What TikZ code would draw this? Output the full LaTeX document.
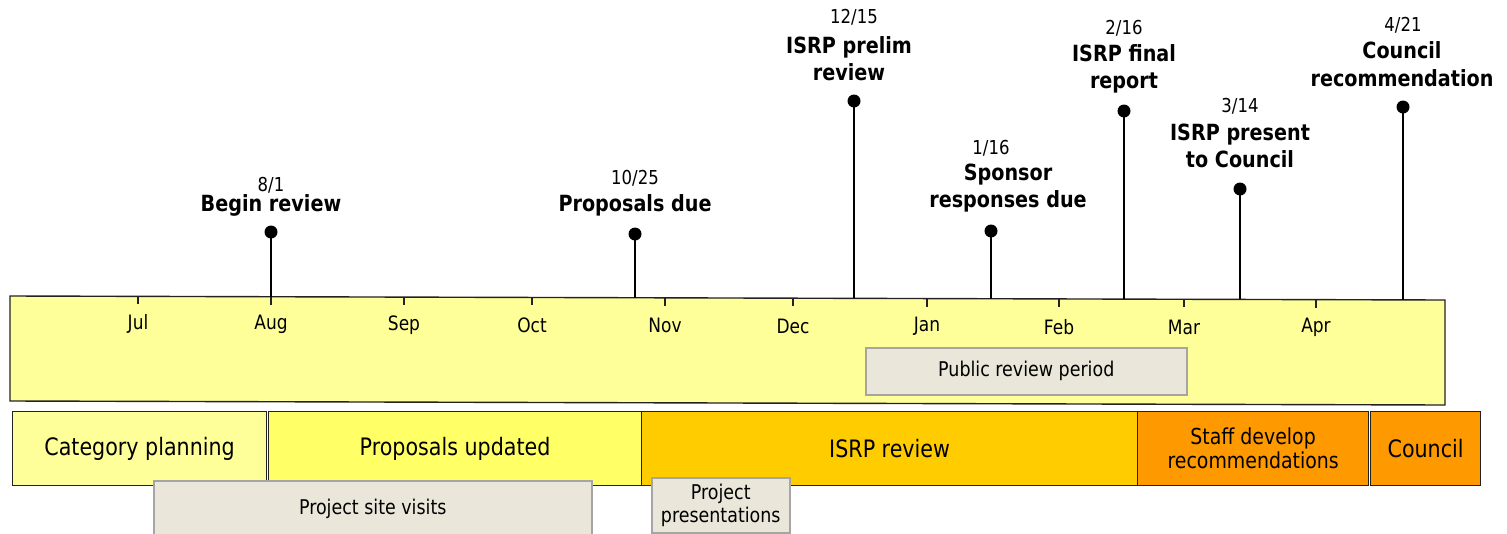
\documentclass[tikz,border=0pt]{standalone}
\usepackage{fontspec}
\setmainfont{DejaVu Sans}[FakeStretch=0.86]
\definecolor{pyellow}{HTML}{FFFF99}
\definecolor{myellow}{HTML}{FFFF66}
\definecolor{gold}{HTML}{FFCC00}
\definecolor{orng}{HTML}{FF9900}
\definecolor{greyfill}{HTML}{EAE7DA}
\definecolor{greyline}{HTML}{A5A5A5}
\definecolor{dark}{HTML}{222222}
\begin{document}
\begin{tikzpicture}[x=1pt,y=-1pt,
  phase/.style={draw=dark,line width=1.2pt,anchor=north west,inner sep=0pt,
    font=\fontsize{24}{24}\selectfont,align=center},
  greybox/.style={draw=greyline,fill=greyfill,line width=1.5pt,anchor=north west,inner sep=0pt,
    font=\fontsize{20.3}{23}\selectfont,align=center},
  month/.style={font=\fontsize{19.8}{20}\selectfont,inner sep=0pt},
  mdate/.style={font=\fontsize{19.2}{20}\selectfont,inner sep=0pt},
  mtitle/.style={font=\fontsize{22.3}{27.5}\selectfont\bfseries,align=center,inner sep=0pt},
  mdot/.style={circle,fill=black,inner sep=0pt,minimum size=13pt},
  stem/.style={line width=1.5pt,black}]
\useasboundingbox (0,0) rectangle (1507,533);

% main timeline band
\draw[fill=pyellow,draw=dark,line width=1.4pt] (10,296) -- (1445,300) -- (1445,405) -- (10,401) -- cycle;

% month ticks and labels
\foreach \x/\m in {138/Jul,271/Aug,404/Sep,532/Oct,665/Nov,793/Dec,927/Jan,1059/Feb,1184/Mar,1316/Apr}{
  \pgfmathsetmacro\yt{296+(\x-10)*0.0027875}
  \draw[line width=1.2pt,dark] (\x,\yt) -- (\x,\yt+8);
  \node[month] (lab\m) at (\x,\yt+28) {\m};
}

% public review period
\node[greybox,minimum width=321pt,minimum height=47pt] (g1) at (865,347) {Public review period};

% milestones: dot, stem end on the band, date and title
\foreach \n/\x/\yd/\xt/\ydate/\ytitle/\dt/\tt in {
  a/271/232/271/185/205/8\slash 1/Begin review,
  b/635/234/635/178/205/10\slash 25/Proposals due,
  c/854/101/849/17/58.5/12\slash 15/ISRP prelim\\review,
  d/991/231/1008/148/188/1\slash 16/Sponsor\\responses due,
  e/1124/111/1124/28/69/2\slash 16/ISRP final\\report,
  f/1240/189/1240/106/146/3\slash 14/ISRP present\\to Council,
  g/1403/107/1402/25/64/4\slash 21/Council\\recommendation}{
  \pgfmathsetmacro\yb{296+(\x-10)*0.0027875}
  \coordinate (top\n) at (\x,\yb);
  \node[mdot] (dot\n) at (\x,\yd) {};
  \draw[stem] (dot\n.center) -- (top\n);
  \node[mdate] (date\n) at (\x,\ydate) {\dt};
  \node[mtitle] (title\n) at (\xt,\ytitle) {\tt};
}

% phase bar
\node[phase,fill=pyellow,minimum width=254pt,minimum height=74pt] (p1) at (12,411) {Category planning};
\node[phase,fill=myellow,minimum width=373pt,minimum height=74pt] (p2) at (268,411) {Proposals updated};
\node[phase,fill=gold,minimum width=496pt,minimum height=74pt] (p3) at (641,411) {ISRP review};
\node[phase,fill=orng,minimum width=231pt,minimum height=74pt,font=\fontsize{22}{24}\selectfont] (p4) at (1137,411) {Staff develop\\recommendations};
\node[phase,fill=orng,minimum width=110pt,minimum height=74pt] (p5) at (1370,411) {Council};

% lower grey boxes
\node[greybox,minimum width=438pt,minimum height=56pt] (g2) at (153,480) {Project site visits};
\node[greybox,minimum width=138pt,minimum height=55pt] (g3) at (651,477) {Project\\presentations};
\end{tikzpicture}
\end{document}
